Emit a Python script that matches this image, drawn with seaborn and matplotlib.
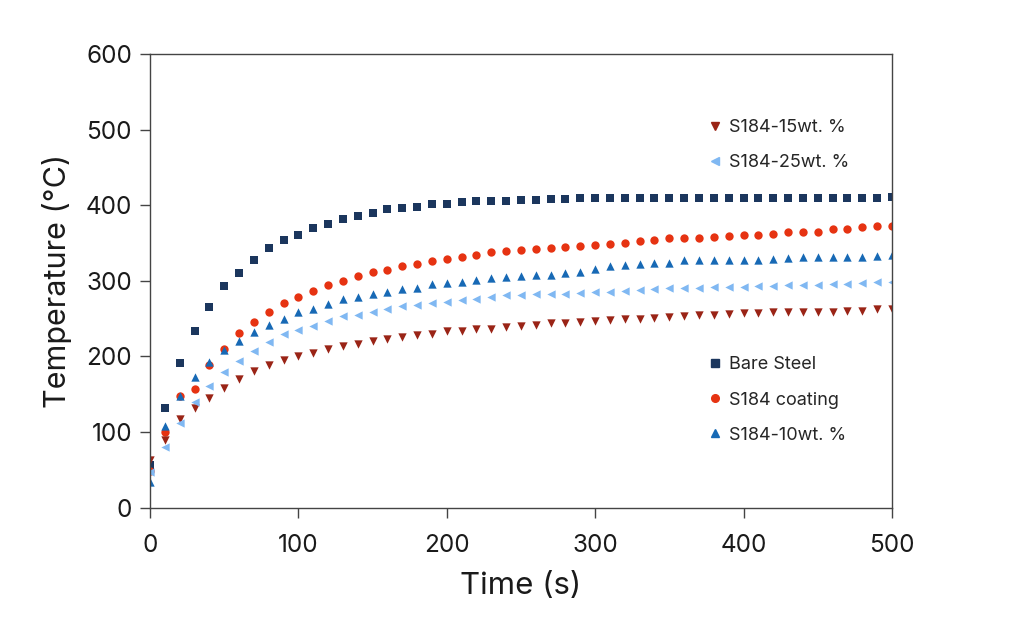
import numpy as np
import pandas as pd
import matplotlib
matplotlib.use("Agg")
import matplotlib.pyplot as plt
import seaborn as sns

# -- Data ----------------------------------------------------
time_s = list(range(0, 501, 10))

bare_steel = [56, 131, 191, 233, 265, 293, 310, 328, 343, 354,
              360, 370, 375, 381, 386, 390, 395, 396, 398, 401,
              401, 404, 405, 406, 406, 407, 407, 408, 408, 409,
              409, 410, 410, 410, 410, 410, 410, 410, 410, 410,
              410, 410, 410, 410, 410, 410, 410, 410, 410, 410, 411]

s184_coating = [48, 100, 148, 157, 189, 210, 231, 245, 258, 270,
                279, 287, 294, 299, 306, 311, 314, 319, 322, 326,
                329, 332, 334, 338, 339, 341, 342, 343, 345, 346,
                347, 349, 350, 353, 354, 356, 357, 357, 358, 359,
                361, 361, 362, 364, 365, 365, 368, 369, 371, 372, 373]

s184_10 = [34, 108, 147, 173, 193, 209, 220, 232, 241, 250,
           258, 263, 269, 276, 279, 282, 285, 289, 291, 296,
           297, 298, 301, 303, 305, 306, 307, 308, 310, 312,
           316, 319, 321, 322, 323, 323, 327, 327, 327, 328,
           328, 328, 329, 330, 331, 331, 331, 331, 332, 333, 334]

s184_15 = [63, 89, 117, 131, 145, 158, 170, 180, 189, 195,
           200, 204, 210, 213, 216, 220, 223, 226, 228, 230,
           233, 234, 236, 236, 239, 240, 242, 244, 244, 245,
           247, 248, 249, 250, 251, 252, 253, 254, 255, 256,
           257, 257, 258, 258, 259, 259, 259, 260, 260, 262, 263]

s184_25 = [47, 80, 112, 139, 161, 179, 194, 207, 219, 229,
           235, 240, 247, 253, 255, 259, 263, 266, 268, 270,
           272, 274, 276, 278, 281, 281, 282, 283, 283, 284,
           285, 285, 287, 288, 289, 290, 290, 291, 292, 292,
           292, 293, 293, 294, 294, 294, 295, 296, 297, 298, 298]

SERIES = {
    "Bare Steel": (bare_steel, "s", "#1b365d"),
    "S184 coating": (s184_coating, "o", "#e63312"),
    "S184-10wt. %": (s184_10, "^", "#1769b5"),
    "S184-15wt. %": (s184_15, "v", "#9a2416"),
    "S184-25wt. %": (s184_25, "<", "#80b8f2"),
}

# -- Plot ----------------------------------------------------
sns.set_theme(style="ticks")
plt.rcParams["font.family"] = ["Inter", "DejaVu Sans"]

fig = plt.figure(figsize=(10.24, 6.42), dpi=100)
ax = fig.add_axes([0.1465, 0.2095, 0.7245, 0.7065])

handles = {}
for name, (vals, mk, col) in SERIES.items():
    df = pd.DataFrame({"t": time_s, "T": vals})
    sns.scatterplot(data=df, x="t", y="T", marker=mk, color=col,
                    s=36, linewidth=0, ax=ax, label=name, legend=False)
    handles[name] = plt.Line2D([], [], linestyle="none", marker=mk,
                               color=col, markersize=5.5)

ax.set_xlim(0, 500)
ax.set_ylim(0, 600)
ax.set_xticks([0, 100, 200, 300, 400, 500])
ax.set_yticks([0, 100, 200, 300, 400, 500, 600])
ax.tick_params(labelsize=17.5, length=7, width=1, color="#444444",
               labelcolor="#1a1a1a")
ax.tick_params(axis="x", pad=12)
ax.tick_params(axis="y", pad=6)
for sp in ax.spines.values():
    sp.set_color("#444444")
    sp.set_linewidth(1)
ax.set_xlabel("Time (s)", fontsize=22.5, color="#1a1a1a", labelpad=11)
ax.set_ylabel("Temperature (°C)", fontsize=22, color="#1a1a1a", labelpad=10)

leg_kw = dict(frameon=False, fontsize=13, handlelength=0.8,
              handletextpad=0.35, borderpad=0, borderaxespad=0,
              labelspacing=1.0, loc="center left")
top = ax.legend([handles[k] for k in ["S184-15wt. %", "S184-25wt. %"]],
                ["S184-15wt. %", "S184-25wt. %"],
                bbox_to_anchor=(0.752, 0.799), **leg_kw)
ax.add_artist(top)
ax.legend([handles[k] for k in ["Bare Steel", "S184 coating", "S184-10wt. %"]],
          ["Bare Steel", "S184 coating", "S184-10wt. %"],
          bbox_to_anchor=(0.752, 0.237), **leg_kw)

fig.savefig("out.png", dpi=100)
